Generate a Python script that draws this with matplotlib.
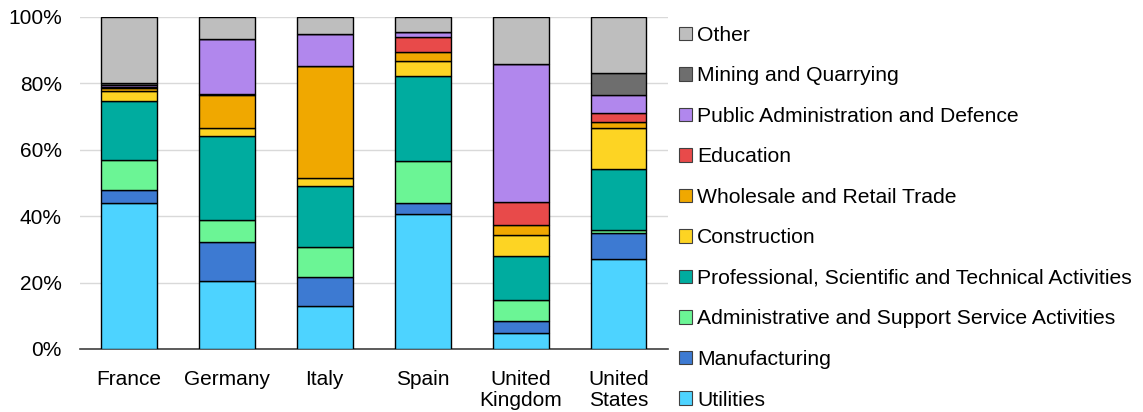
import numpy as np
import matplotlib.pyplot as plt
from matplotlib.patches import Patch

plt.rcParams['font.family'] = ['Liberation Sans', 'DejaVu Sans']

# --- Data (% share by sector) ---
countries = ['France', 'Germany', 'Italy', 'Spain', 'United\nKingdom', 'United\nStates']
sectors = ['Utilities', 'Manufacturing', 'Administrative and Support Service Activities',
           'Professional, Scientific and Technical Activities', 'Construction',
           'Wholesale and Retail Trade', 'Education', 'Public Administration and Defence',
           'Mining and Quarrying', 'Other']

utilities = [44.0, 20.6, 13.0, 40.7, 4.9, 27.1]
manufacturing = [3.8, 11.5, 8.6, 3.3, 3.4, 7.7]
admin_support = [9.0, 6.7, 9.0, 12.6, 6.5, 1.0]
professional = [17.8, 25.4, 18.4, 25.5, 13.2, 18.3]
construction = [3.0, 2.2, 2.4, 4.6, 6.4, 12.4]
wholesale = [0.9, 10.2, 33.9, 2.8, 2.8, 1.8]
education = [0.4, 0.3, 0.0, 4.4, 7.1, 2.7]
public_admin = [0.7, 16.3, 9.5, 1.4, 41.6, 5.4]
mining = [0.4, 0.0, 0.0, 0.0, 0.0, 6.6]
other = [19.9, 6.8, 5.2, 4.7, 14.1, 17.0]

colors = ['#4DD3FF', '#3D7AD2', '#6BF595', '#00AC9F', '#FDD423',
          '#F0A800', '#E84A4A', '#B187ED', '#6E6E6E', '#BEBEBE']

series = [utilities, manufacturing, admin_support, professional, construction,
          wholesale, education, public_admin, mining, other]

# --- Plot ---
fig = plt.figure(figsize=(11.43, 4.12), dpi=100)
ax = fig.add_axes([0.070, 0.153, 0.514, 0.806])

x = np.arange(len(countries))
bottom = np.zeros(len(countries))
for vals, col in zip(series, colors):
    vals = np.array(vals)
    ax.bar(x, vals, 0.57, bottom=bottom, color=col, edgecolor='black', linewidth=1.0, zorder=3)
    bottom += vals

ax.set_xlim(-0.5, len(countries) - 0.5)
ax.set_ylim(0, 100)
ax.set_yticks(range(0, 101, 20))
ax.set_yticklabels([f'{v}%' for v in range(0, 101, 20)])
ax.set_xticks(x)
ax.set_xticklabels(countries, linespacing=1.15)
ax.tick_params(axis='both', labelsize=15, length=0, colors='black')
ax.tick_params(axis='y', pad=13)
ax.tick_params(axis='x', pad=15)
ax.grid(axis='y', color='#D9D9D9', linewidth=1, zorder=0)
for s in ['left', 'right', 'top']:
    ax.spines[s].set_visible(False)
ax.spines['bottom'].set_color('#404040')
ax.spines['bottom'].set_linewidth(1.2)

handles = [Patch(facecolor=c, edgecolor='#404040', linewidth=0.8, label=l)
           for c, l in zip(colors, sectors)][::-1]
fig.legend(handles=handles, loc='upper left', bbox_to_anchor=(0.587, 0.958),
           frameon=False, fontsize=15.2, handlelength=0.6, handleheight=0.6,
           handletextpad=0.25, labelspacing=1.02, borderaxespad=0)

fig.savefig('out.png', dpi=100)
